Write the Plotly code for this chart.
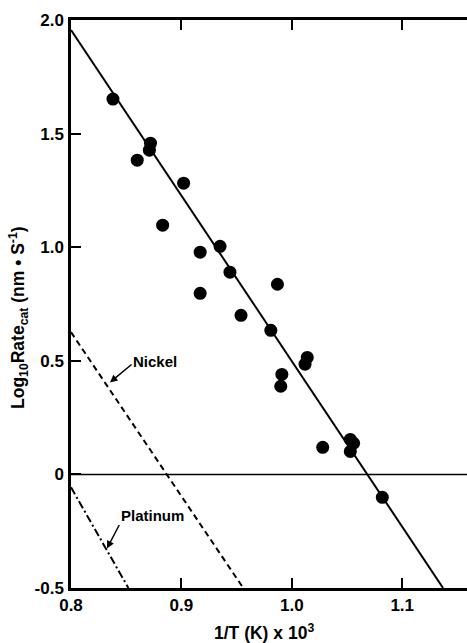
import plotly.graph_objects as go

# Measured data points (1/T x 10^3, log10 rate)
inv_T = [0.838, 0.860, 0.871, 0.872, 0.883, 0.902, 0.917, 0.917, 0.935, 0.944,
         0.954, 0.981, 0.987, 0.990, 0.991, 1.012, 1.014, 1.028, 1.053, 1.056,
         1.053, 1.082]
log_rate = [1.652, 1.383, 1.427, 1.458, 1.097, 1.282, 0.978, 0.797, 1.004, 0.890,
            0.700, 0.634, 0.837, 0.388, 0.440, 0.485, 0.515, 0.119, 0.154, 0.137,
            0.101, -0.101]

# Fitted line and reference lines (endpoints)
fit_x = [0.8, 1.137]
fit_y = [1.956, -0.5]
nickel_x = [0.8, 0.956]
nickel_y = [0.626, -0.5]
platinum_x = [0.8, 0.852]
platinum_y = [-0.057, -0.5]
zero_x = [0.8, 1.1587]
zero_y = [0, 0]

x_ticks = [0.8, 0.9, 1.0, 1.1]
x_ticktext = ["0.8", "0.9", "1.0", "1.1"]
top_ticks = [0.9, 1.0, 1.1]
y_ticks = [-0.5, 0, 0.5, 1.0, 1.5, 2.0]
y_ticktext = ["-0.5", "0", "0.5", "1.0", "1.5", "2.0"]

FONT = "Liberation Sans, Arial, sans-serif"

fig = go.Figure()
fig.add_trace(go.Scatter(x=zero_x, y=zero_y, mode="lines", xaxis="x2",
                         line=dict(color="black", width=1.5), showlegend=False, hoverinfo="skip"))
fig.add_trace(go.Scatter(x=fit_x, y=fit_y, mode="lines",
                         line=dict(color="black", width=2), showlegend=False))
fig.add_trace(go.Scatter(x=nickel_x, y=nickel_y, mode="lines",
                         line=dict(color="black", width=2, dash="6px,4px"), showlegend=False))
fig.add_trace(go.Scatter(x=platinum_x, y=platinum_y, mode="lines",
                         line=dict(color="black", width=2, dash="8px,3px,2px,3px"), showlegend=False))
fig.add_trace(go.Scatter(x=inv_T, y=log_rate, mode="markers",
                         marker=dict(color="black", size=13, line=dict(width=0)), showlegend=False))

fig.update_layout(
    width=467, height=643,
    margin=dict(l=71, r=0, t=20, b=55),
    paper_bgcolor="white", plot_bgcolor="white",
    font=dict(family=FONT, color="black"),
    xaxis=dict(range=[0.8, 1.1587], tickvals=x_ticks, ticktext=x_ticktext,
               ticks="inside", ticklen=10, tickwidth=1.5, tickcolor="black",
               showline=True, linecolor="black", linewidth=2.5,
               showgrid=False, zeroline=False,
               tickfont=dict(size=17, weight="bold", family=FONT),
               ticklabelstandoff=0),
    xaxis2=dict(range=[0.8, 1.1587], overlaying="x", side="top", tickvals=top_ticks,
                ticks="inside", ticklen=10, tickwidth=1.5, tickcolor="black",
                showline=True, linecolor="black", linewidth=2.5,
                showgrid=False, zeroline=False, showticklabels=False),
    yaxis=dict(range=[-0.5, 2.0], tickvals=y_ticks, ticktext=y_ticktext,
               ticks="inside", ticklen=10, tickwidth=1.5, tickcolor="black",
               showline=True, linecolor="black", linewidth=2.5,
               showgrid=False, zeroline=False,
               tickfont=dict(size=17, weight="bold", family=FONT),
               ticklabelstandoff=1),
    annotations=[
        dict(text="1/T (K) x 10<sup>3</sup>", xref="paper", yref="paper",
             x=0.487, y=-0.0775, xanchor="center", yanchor="middle", showarrow=False,
             font=dict(size=17.5, weight="bold", family=FONT)),
        dict(text="Log<sub>10</sub>Rate<sub>cat</sub> (nm • S<sup>-1</sup>)",
             xref="paper", yref="paper", x=-0.134, y=0.477, textangle=-90,
             xanchor="center", yanchor="middle",
             showarrow=False, font=dict(size=17.5, weight="bold", family=FONT)),
        dict(text="Nickel", x=0.876, y=0.498, xref="x", yref="y", showarrow=False,
             xanchor="center", yanchor="middle",
             font=dict(size=15, weight="bold", family=FONT)),
        dict(text="", x=0.8353, y=0.405, ax=0.8562, ay=0.489, xref="x", yref="y",
             axref="x", ayref="y", showarrow=True, arrowhead=2, arrowsize=1,
             arrowwidth=1.5, arrowcolor="black"),
        dict(text="Platinum", x=0.8738, y=-0.181, xref="x", yref="y", showarrow=False,
             xanchor="center", yanchor="middle",
             font=dict(size=15, weight="bold", family=FONT)),
        dict(text="", x=0.8326, y=-0.326, ax=0.8444, ay=-0.216, xref="x", yref="y",
             axref="x", ayref="y", showarrow=True, arrowhead=2, arrowsize=1,
             arrowwidth=1.5, arrowcolor="black"),
    ],
)

fig.write_html("out.html", config={"displayModeBar": False},
               post_script="document.body.style.margin='0';document.body.style.overflow='hidden';")
